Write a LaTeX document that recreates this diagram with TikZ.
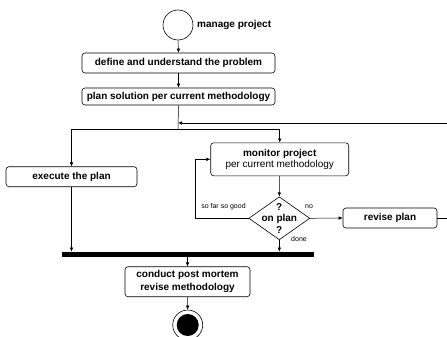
\documentclass[tikz,border=0pt]{standalone}
\usepackage{fontspec}
\setmainfont{Liberation Sans}
\usetikzlibrary{shapes.geometric,arrows.meta}
\begin{document}
\begin{tikzpicture}[x=1pt,y=-1pt,
  act/.style={draw, rounded corners=3pt, inner sep=0pt, font=\fontsize{10}{11.5}\selectfont\bfseries, align=center, line width=0.6pt},
  conn/.style={line width=0.5pt, -{Latex[length=4pt,width=3.5pt]}},
  plain/.style={line width=0.5pt},
  small/.style={font=\fontsize{7}{8}\selectfont, inner sep=0pt}]
\useasboundingbox (0,0) rectangle (447,337);
\node[circle, draw, line width=0.6pt, minimum size=30pt, inner sep=0pt] (start) at (178,25) {};
\node[anchor=west, inner sep=0pt, font=\fontsize{10}{11.5}\selectfont\bfseries] (startlbl) at (197,25) {manage project};
\node[act, minimum width=193pt, minimum height=20pt] (define) at (178.5,63) {define and understand the problem};
\node[act, minimum width=193pt, minimum height=17pt] (plan) at (178.5,96.5) {plan solution per current methodology};
\coordinate (split) at (178,129);
\coordinate (fb) at (178,123);
\node[act, minimum width=131pt, minimum height=20pt] (exec) at (71.5,176.7) {execute the plan};
\node[act, minimum width=138pt, minimum height=33pt] (mon) at (279.7,159.3) {monitor project\\[-0.5pt]{\mdseries per current methodology}};
\node[draw, diamond, line width=0.6pt, minimum width=61pt, minimum height=43pt, inner sep=0pt] (dia) at (279.3,218.3) {};
\node[align=center, inner sep=0pt, font=\fontsize{10}{11.5}\selectfont\bfseries] (diatxt) at (dia) {?\\on plan\\?};
\node[act, minimum width=94pt, minimum height=20pt] (revise) at (390,218) {revise plan};
\node[fill, minimum width=252pt, minimum height=5pt, inner sep=0pt] (bar) at (188,254.3) {};
\node[act, minimum width=125pt, minimum height=30pt, font=\fontsize{10}{12.6}\selectfont\bfseries] (post) at (187.5,281.7) {conduct post mortem\\revise methodology};
\node[circle, draw, line width=0.6pt, minimum size=30pt, inner sep=0pt] (end) at (187.7,325) {};
\fill (end.center) circle (11pt);
\coordinate (loopA) at (195,218.3);
\coordinate (fbR) at (450,218);
\coordinate (fbT) at (450,123);
\node[small, anchor=base] (sofar) at (223.5,208) {so far so good};
\node[small, anchor=base] (nolbl) at (309,208) {no};
\node[small, anchor=base] (donelbl) at (299,241) {done};
\draw[conn] (start.south) -- (define.north);
\draw[conn] (define.south) -- (plan.north);
\draw[plain] (plan.south) -- (split);
\draw[conn] (split) -| (exec.north);
\draw[conn] (split) -| (mon.north);
\draw[conn] (revise.east) -- (fbR) -- (fbT) -- (fb);
\draw[conn] (mon.south) -- (dia.north);
\draw[conn] (dia.west) -- (loopA) |- (mon.west);
\draw[conn] (dia.east) -- (revise.west);
\draw[conn] (exec.south) -- (exec.south |- bar.north);
\draw[conn] (dia.south) -- (dia.south |- bar.north);
\draw[conn] (bar.south -| post.north) -- (post.north);
\draw[conn] (post.south) -- (end.north);
\end{tikzpicture}
\end{document}
